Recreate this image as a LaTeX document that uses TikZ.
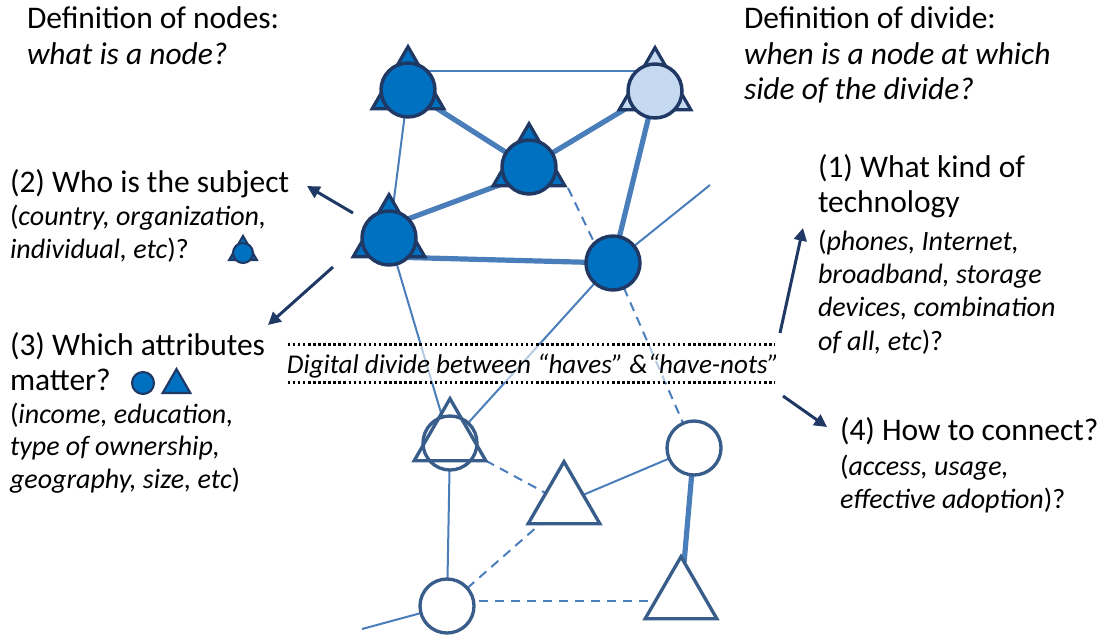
\documentclass[tikz,border=0pt]{standalone}
\usepackage{fontspec}
\setmainfont{Carlito}
\usetikzlibrary{arrows.meta,shapes.geometric,calc}

\definecolor{edgeblue}{RGB}{74,126,187}
\definecolor{nodefill}{RGB}{0,112,192}
\definecolor{lightfill}{RGB}{197,217,241}
\definecolor{navy}{RGB}{31,56,100}
\definecolor{openline}{RGB}{56,93,138}

\pgfdeclarelayer{background}
\pgfsetlayers{background,main}

% text sizes
\newcommand\qfont{\fontsize{23.6pt}{26.6pt}\selectfont}
\newcommand\dfont{\fontsize{21pt}{24.8pt}\selectfont}
\newcommand\bandfont{\fontsize{20.3pt}{24pt}\selectfont}
% a block of left-aligned lines whose reference point is the first baseline
\newcommand\lineblock[2]{\vtop{\baselineskip=#1\relax #2}}

\begin{document}
\begin{tikzpicture}[x=0.75pt,y=-0.75pt,
  thinedge/.style={draw=edgeblue, line width=1.5pt},
  thickedge/.style={draw=edgeblue, line width=3.9pt},
  dashedge/.style={draw=edgeblue, line width=1.5pt, dash pattern=on 7pt off 5pt},
  fullcirc/.style={circle, draw=navy, fill=nodefill, line width=2.6pt, minimum size=40.5pt, inner sep=0pt, outer sep=0pt},
  fulltri/.style={regular polygon, regular polygon sides=3, draw=navy, fill=nodefill, line width=2.4pt, minimum size=62pt, inner sep=0pt, outer sep=0pt},
  opencirc/.style={circle, draw=openline, fill=white, line width=2.5pt, minimum size=40.5pt, inner sep=0pt, outer sep=0pt},
  opentri/.style={regular polygon, regular polygon sides=3, draw=openline, fill=white, line width=2.5pt, minimum size=62pt, inner sep=0pt, outer sep=0pt},
  iconcirc/.style={circle, draw=navy, fill=nodefill, line width=1.6pt, minimum size=16.5pt, inner sep=0pt},
  icontri/.style={regular polygon, regular polygon sides=3, draw=navy, fill=nodefill, line width=1.6pt, minimum size=24pt, inner sep=0pt},
  arr/.style={draw=navy, line width=2.25pt, -{Triangle[length=9.5pt,width=9.5pt]}},
  dotline/.style={draw=black, line width=1.9pt, dash pattern=on 1.9pt off 1.9pt},
  txt/.style={anchor=base west, inner sep=0pt, outer sep=0pt, align=left}
]
\useasboundingbox (0,0) rectangle (1106,635);

% ---- upper network ("haves") ----
\node[fulltri] (At) at (408,88) {};
\node[fullcirc] (A) at (408,90) {};
\node[fulltri, fill=lightfill] (Bt) at (655,89) {};
\node[fullcirc, fill=lightfill] (B) at (655,91) {};
\node[fulltri] (Ct) at (529,165) {};
\node[fullcirc] (C) at (529,167) {};
\node[fulltri] (Dt) at (389,236) {};
\node[fullcirc] (D) at (389,238) {};
\node[fullcirc] (E) at (613,263) {};

% ---- lower network ("have-nots") ----
\node[opencirc] (F) at (450,443) {};
\node[opentri, fill=none] (Ft) at (450,440) {};
\node[opencirc] (G) at (694,448) {};
\node[opentri] (H) at (564,503) {};
\node[opencirc] (I) at (447,606) {};
\node[opentri] (J) at (681,598) {};

\coordinate (Eout) at (710,185);
\coordinate (Iout) at (362,629);

% ---- links ----
\begin{pgfonlayer}{background}
\draw[thinedge] ($(A)+(0,-19)$) -- ($(B)+(0,-20)$);
\draw[thickedge] (A.center) -- (C.center);
\draw[thickedge] (C.center) -- (B.center);
\draw[thinedge] (A) -- (D);
\draw[thickedge] ($(D)+(0,-12)$) -- ($(C)+(0,7)$);
\draw[dashedge] ($(C)+(39,21)$) -- ($(E)+(-9,0)$);
\draw[thickedge] (B.center) -- (E.center);
\draw[thickedge] ($(D)+(0,19)$) -- (E.center);
\draw[thinedge] (E) -- (Eout);
\draw[thinedge] (E) -- (F);
\draw[thinedge] (D) -- (F);
\draw[dashedge] (E) -- (G);
\draw[dashedge] (Ft.corner 3) -- (H);
\draw[thinedge] (G) -- (H);
\draw[thinedge] (F) -- (I);
\draw[dashedge] (I) -- (H);
\draw[thickedge] (G) -- (J);
\draw[dashedge] ($(I)+(0,-5)$) -- ($(J)+(0,3)$);
\draw[thinedge] (I) -- (Iout);
\end{pgfonlayer}

% ---- the divide ----
\node[fill=white, fill opacity=0.6, minimum width=365.25pt, minimum height=27.75pt, inner sep=0pt] (band) at (531.5,363.5) {};
\draw[dotline] (band.north west) -- (band.north east);
\draw[dotline] (band.south west) -- (band.south east);
\node[anchor=base, inner sep=0pt, font=\bandfont\itshape] (divide) at (533,373) {Digital divide between “haves” \&“have-nots”};

% ---- headings ----
\node[txt] (defnodes) at (27,29) {\qfont\lineblock{27pt}{\hbox{Definition of nodes:}\hbox{\itshape what is a node?}}};
\node[txt] (defdivide) at (744,29) {\qfont\lineblock{26.6pt}{\hbox{Definition of divide:}\hbox{\itshape when is a node at which}\hbox{\itshape side of the divide?}}};

% ---- questions ----
\node[txt] (q2) at (10,192) {\qfont (2) Who is the subject};
\node[txt] (q2d) at (10,225) {\dfont\lineblock{24.8pt}{\hbox{(\textit{country, organization,}}\hbox{\textit{individual, etc})?}}};
\node[txt] (q3) at (10,355) {\qfont\lineblock{26.3pt}{\hbox{(3) Which attributes}\hbox{matter?}}};
\node[txt] (q3d) at (10,423) {\dfont\lineblock{24.6pt}{\hbox{(\textit{income, education,}}\hbox{\textit{type of ownership,}}\hbox{\textit{geography, size, etc})}}};
\node[txt] (q1) at (818,177) {\qfont\lineblock{26.3pt}{\hbox{(1) What kind of}\hbox{technology}}};
\node[txt] (q1d) at (818,250) {\dfont\lineblock{25pt}{\hbox{(\textit{phones, Internet,}}\hbox{\textit{broadband, storage}}\hbox{\textit{devices, combination}}\hbox{\textit{of all, etc})?}}};
\node[txt] (q4) at (840,440) {\qfont (4) How to connect?};
\node[txt] (q4d) at (840,475) {\dfont\lineblock{24.8pt}{\hbox{(\textit{access, usage,}}\hbox{\textit{effective adoption})?}}};

% ---- small legend marks ----
\node[icontri] (i2t) at (243,252) {};
\node[iconcirc, minimum size=15pt] (i2c) at (243,253) {};
\node[iconcirc] (i3c) at (143,383) {};
\node[icontri] (i3t) at (176.5,385) {};

% ---- arrows ----
\coordinate (t2) at (353,213);  \coordinate (h2) at (307,186);
\coordinate (t3) at (333,267);  \coordinate (h3) at (268,325);
\coordinate (t1) at (780,333);  \coordinate (h1) at (803,228);
\coordinate (t4) at (783,396);  \coordinate (h4) at (827,427);
\draw[arr] (t2) -- (h2);
\draw[arr] (t3) -- (h3);
\draw[arr] (t1) -- (h1);
\draw[arr] (t4) -- (h4);
\end{tikzpicture}
\end{document}
